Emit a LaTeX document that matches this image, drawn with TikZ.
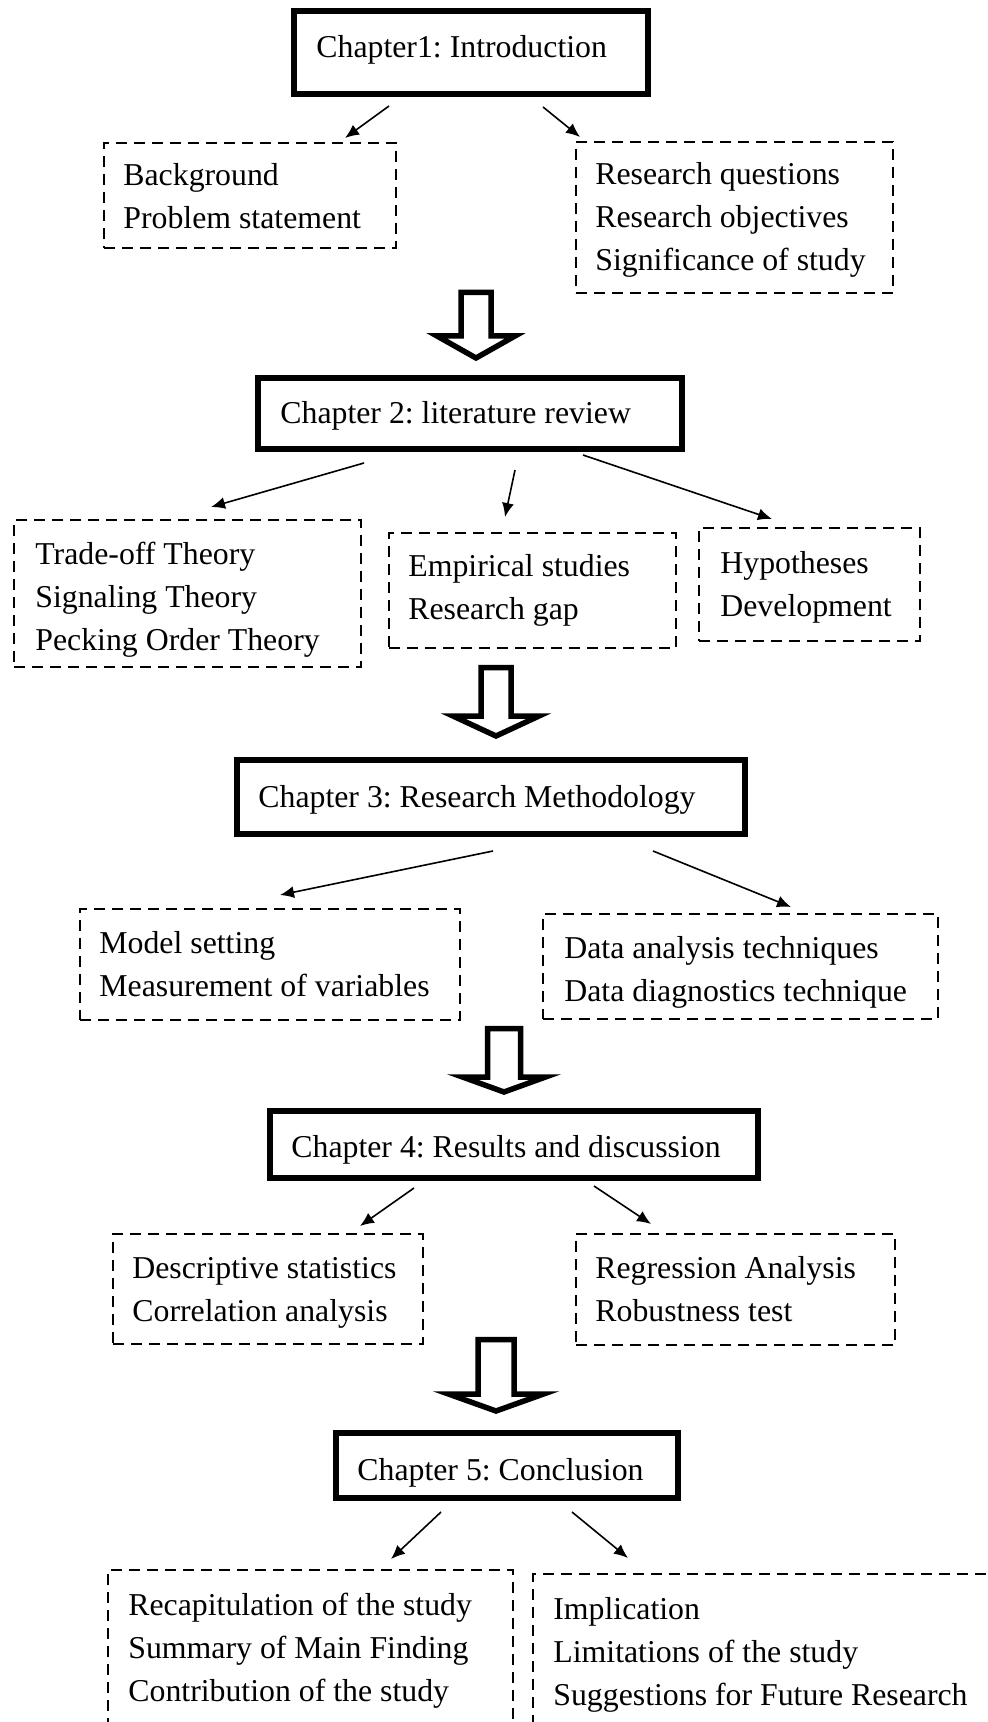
\documentclass[tikz,border=0pt]{standalone}
\usepackage{fontspec}
\setmainfont{Liberation Serif}
\usetikzlibrary{arrows.meta}
\frenchspacing
\newcommand\blockarrow[6]{% cx top base tip halfshaft halfhead
  \draw[hollow] ({#1-#5},#2) -- ({#1+#5},#2) -- ({#1+#5},#3) -- ({#1+#6},#3) -- (#1,#4) -- ({#1-#6},#3) -- ({#1-#5},#3) -- cycle;}
\begin{document}
\begin{tikzpicture}[x=0.5pt,y=-0.5pt,
  chap/.style={draw, line width=3.2pt, rectangle, inner sep=0pt, outer sep=0pt},
  dbox/.style={draw, line width=1.2pt, dash pattern=on 5.5pt off 3.5pt, rectangle, inner sep=0pt, outer sep=0pt},
  txt/.style={anchor=base west, align=left, inner sep=0pt, font=\fontsize{15.9}{21.5}\selectfont\frenchspacing},
  conn/.style={line width=0.8pt, -{Latex[length=7pt,width=6pt]}},
  hollow/.style={line width=2.75pt, line join=miter, miter limit=10, fill=white}]
\clip (0,0) rectangle (988,1722);
\fill[white] (0,0) rectangle (988,1722);

% ---------- Chapter boxes ----------
\node[chap, minimum width=177pt, minimum height=41.5pt] (c1) at (471,52.5) {};
\node[chap, minimum width=212pt, minimum height=35.5pt] (c2) at (470,413.5) {};
\node[chap, minimum width=254pt, minimum height=37pt] (c3) at (491,797) {};
\node[chap, minimum width=244pt, minimum height=33.5pt] (c4) at (514,1144.5) {};
\node[chap, minimum width=171pt, minimum height=32.5pt] (c5) at (507,1465.5) {};

\node[txt] (c1t) at (316,58) {Chapter1: Introduction};
\node[txt] (c2t) at (280,423) {Chapter 2: literature review};
\node[txt] (c3t) at (258,807) {Chapter 3: Research Methodology};
\node[txt] (c4t) at (291,1157) {Chapter 4: Results and discussion};
\node[txt] (c5t) at (357,1480) {Chapter 5: Conclusion};

% ---------- Dashed boxes ----------
\node[dbox, minimum width=146pt, minimum height=52.5pt] (b1a) at (250,195.5) {};
\node[dbox, minimum width=158.5pt, minimum height=75.5pt] (b1b) at (734.5,217.5) {};
\node[dbox, minimum width=173.5pt, minimum height=73.5pt] (b2a) at (187.5,593.5) {};
\node[dbox, minimum width=143.5pt, minimum height=57.5pt] (b2b) at (532.5,590.5) {};
\node[dbox, minimum width=110.5pt, minimum height=56.5pt] (b2c) at (809.5,584.5) {};
\node[dbox, minimum width=190pt, minimum height=55.5pt] (b3a) at (270,964.5) {};
\node[dbox, minimum width=197.5pt, minimum height=52.5pt] (b3b) at (740.5,966.5) {};
\node[dbox, minimum width=155pt, minimum height=55pt] (b4a) at (268,1289) {};
\node[dbox, minimum width=159.5pt, minimum height=55.5pt] (b4b) at (735.5,1289.5) {};
\node[dbox, minimum width=202.5pt, minimum height=79pt] (b5a) at (310.5,1649) {};
\node[dbox, minimum width=231pt, minimum height=79.5pt] (b5b) at (764,1653.5) {};

% multi-line text: base anchor = baseline of the last line
\node[txt] (b1at) at (123,229) {Background\\Problem statement};
\node[txt] (b1bt) at (595,271) {Research questions\\Research objectives\\Significance of study};
\node[txt] (b2at) at (35,650) {Trade-off Theory\\Signaling Theory\\Pecking Order Theory};
\node[txt] (b2bt) at (408,619) {Empirical studies\\Research gap};
\node[txt] (b2ct) at (720,616) {Hypotheses\\Development};
\node[txt] (b3at) at (99,996) {Model setting\\Measurement of variables};
\node[txt] (b3bt) at (564,1001) {Data analysis techniques\\Data diagnostics technique};
\node[txt] (b4at) at (132,1321) {Descriptive statistics\\Correlation analysis};
\node[txt] (b4bt) at (595,1321) {Regression Analysis\\Robustness test};
\node[txt] (b5at) at (128,1701) {Recapitulation of the study\\Summary of Main Finding\\Contribution of the study};
\node[txt] (b5bt) at (553,1705) {Implication\\Limitations of the study\\Suggestions for Future Research};

% ---------- Connectors ----------
\draw[conn] ([shift={(-82,12)}]c1.south) -- ([shift={(95,-5)}]b1a.north);
\draw[conn] ([shift={(72,13)}]c1.south) -- ([shift={(-154.5,-5)}]b1b.north);
\draw[conn] ([shift={(-106,14)}]c2.south) -- ([shift={(23.5,-13)}]b2a.north);
\draw[conn] ([shift={(45,21)}]c2.south) -- ([shift={(-27.5,-16)}]b2b.north);
\draw[conn] ([shift={(113,6)}]c2.south) -- ([shift={(-37.5,-9)}]b2c.north);
\draw[conn] ([shift={(2,17)}]c3.south) -- ([shift={(10,-14)}]b3a.north);
\draw[conn] ([shift={(162,17)}]c3.south) -- ([shift={(50.5,-7)}]b3b.north);
\draw[conn] ([shift={(-100,10)}]c4.south) -- ([shift={(92,-8)}]b4a.north);
\draw[conn] ([shift={(80,8)}]c4.south) -- ([shift={(-84.5,-10)}]b4b.north);
\draw[conn] ([shift={(-66,14)}]c5.south) -- ([shift={(80.5,-11)}]b5a.north);
\draw[conn] ([shift={(65,14)}]c5.south) -- ([shift={(-136,-16)}]b5b.north);

% ---------- Hollow block arrows ----------
\blockarrow{476}{292.5}{336}{358}{15}{39}
\blockarrow{496}{667.5}{716}{736}{15}{43}
\blockarrow{504}{1028.5}{1077}{1092}{16.5}{41.5}
\blockarrow{496}{1339.5}{1394}{1411}{18}{47.5}
\end{tikzpicture}
\end{document}
